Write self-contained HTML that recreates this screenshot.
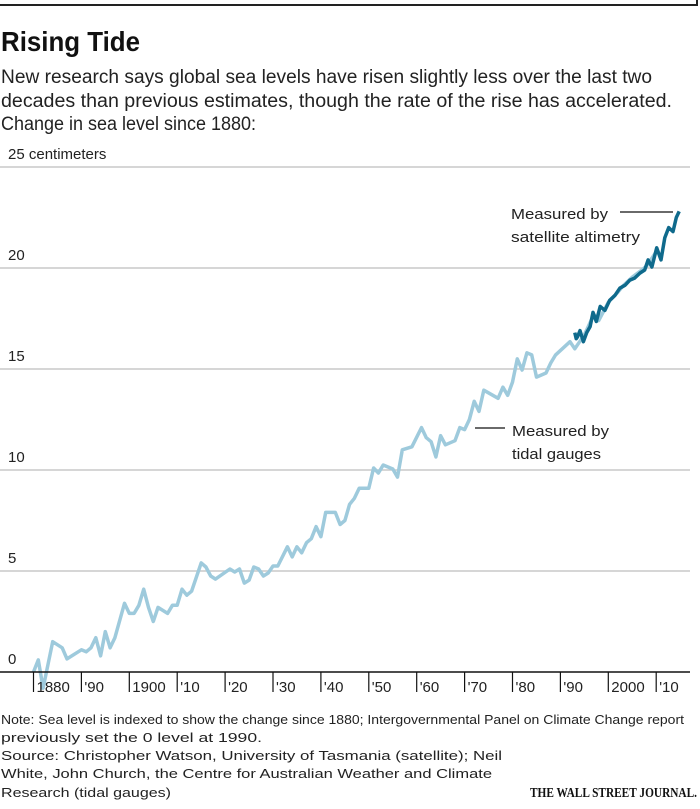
<!DOCTYPE html>
<html><head><meta charset="utf-8"><style>
html,body{margin:0;padding:0;background:#fff;}
svg{display:block;font-family:"Liberation Sans",sans-serif;}
</style></head><body>
<svg id="chart" width="700" height="809" viewBox="0 0 700 809">
<line x1="0" y1="5" x2="697" y2="5" stroke="#222" stroke-width="2"/>
<line x1="697" y1="0" x2="697" y2="6" stroke="#222" stroke-width="2"/>
<text x="1" y="51" font-size="28" font-weight="bold" textLength="139" lengthAdjust="spacingAndGlyphs" fill="#111">Rising Tide</text>
<g font-size="19" fill="#222">
<text x="1" y="83" textLength="651" lengthAdjust="spacingAndGlyphs">New research says global sea levels have risen slightly less over the last two</text>
<text x="1" y="107" textLength="671" lengthAdjust="spacingAndGlyphs">decades than previous estimates, though the rate of the rise has accelerated.</text>
<text x="1" y="130" textLength="255" lengthAdjust="spacingAndGlyphs">Change in sea level since 1880:</text>
</g>
<g id="grid"></g>
<g id="ylabels" font-size="15" fill="#222"></g>
<g id="series"></g>
<line x1="0" y1="672" x2="690" y2="672" stroke="#111" stroke-width="1.5"/>
<g id="xaxis" font-size="15" fill="#222"></g>
<g>
<line x1="620" y1="212" x2="673" y2="212" stroke="#111" stroke-width="1.2"/>
<text x="511" y="219" font-size="15" fill="#222" textLength="97" lengthAdjust="spacingAndGlyphs">Measured by</text>
<text x="511" y="242" font-size="15" fill="#222" textLength="129" lengthAdjust="spacingAndGlyphs">satellite altimetry</text>
</g>
<g>
<line x1="475" y1="428" x2="505" y2="428" stroke="#111" stroke-width="1.2"/>
<text x="512" y="436" font-size="15" fill="#222" textLength="97" lengthAdjust="spacingAndGlyphs">Measured by</text>
<text x="512" y="459" font-size="15" fill="#222" textLength="89" lengthAdjust="spacingAndGlyphs">tidal gauges</text>
</g>
<g font-size="13" fill="#222">
<text x="1" y="724" textLength="683" lengthAdjust="spacingAndGlyphs">Note: Sea level is indexed to show the change since 1880; Intergovernmental Panel on Climate Change report</text>
<text x="1" y="742" textLength="261" lengthAdjust="spacingAndGlyphs">previously set the 0 level at 1990.</text>
<text x="1" y="760" textLength="501" lengthAdjust="spacingAndGlyphs">Source: Christopher Watson, University of Tasmania (satellite); Neil</text>
<text x="1" y="778" textLength="491" lengthAdjust="spacingAndGlyphs">White, John Church, the Centre for Australian Weather and Climate</text>
<text x="1" y="797" textLength="170" lengthAdjust="spacingAndGlyphs">Research (tidal gauges)</text>
</g>
<text x="530" y="797" font-family="Liberation Serif,serif" font-weight="bold" font-size="14" fill="#111" textLength="167" lengthAdjust="spacingAndGlyphs">THE WALL STREET JOURNAL.</text>
</svg>
<script>
const yTicks = [0, 5, 10, 15, 20, 25];
const yTickLabels = ["0", "5", "10", "15", "20", "25 centimeters"];
const xTicks = [1880,1890,1900,1910,1920,1930,1940,1950,1960,1970,1980,1990,2000,2010];
const xTickLabels = ["1880","'90","1900","'10","'20","'30","'40","'50","'60","'70","'80","'90","2000","'10"];
const tidalYears = [1880,1881,1882,1884,1886,1887,1890,1891,1892,1893,1894,1895,1896,1897,1899,1900,1901,1902,1903,1904,1905,1906,1908,1909,1910,1911,1912,1913,1915,1916,1917,1918,1921,1922,1923,1924,1925,1926,1927,1928,1929,1930,1931,1933,1934,1935,1936,1937,1938,1939,1940,1941,1943,1944,1945,1946,1947,1948,1950,1951,1952,1953,1955,1956,1957,1959,1961,1962,1963,1964,1965,1966,1968,1969,1970,1971,1972,1973,1974,1977,1978,1979,1980,1981,1982,1983,1984,1985,1987,1988,1989,1992,1993,1995,1997,1998,2000,2002,2003,2005,2007,2008,2010];
const tidalValues = [0,0.6,-0.8,1.5,1.2,0.65,1.1,1.0,1.2,1.7,0.8,2.0,1.2,1.7,3.4,2.9,2.9,3.3,4.1,3.2,2.5,3.2,2.9,3.3,3.3,4.1,3.8,4.0,5.4,5.2,4.75,4.6,5.1,4.95,5.1,4.4,4.55,5.2,5.1,4.75,4.9,5.25,5.25,6.2,5.7,6.2,5.9,6.4,6.6,7.2,6.7,7.9,7.9,7.3,7.5,8.3,8.6,9.1,9.1,10.1,9.85,10.25,10.05,9.65,11.0,11.15,12.1,11.6,11.4,10.65,11.7,11.25,11.45,12.1,12.0,12.5,13.4,12.9,13.95,13.55,14.1,13.7,14.35,15.5,14.95,15.8,15.7,14.6,14.8,15.3,15.7,16.35,16.0,16.7,17.7,17.4,18.3,18.8,19.1,19.55,19.9,20.1,20.8];
const satYears = [1993.0,1993.3,1993.6,1994.1,1994.8,1995.5,1996.2,1996.8,1997.5,1998.3,1999.3,2000.3,2001.4,2002.4,2003.5,2004.5,2005.5,2006.6,2007.6,2008.3,2009.1,2010.1,2011.0,2011.8,2012.6,2013.5,2014.2,2014.8];
const satValues = [16.8,16.5,16.6,16.9,16.35,16.8,17.1,17.8,17.35,18.1,17.9,18.4,18.65,19.0,19.15,19.4,19.5,19.75,19.9,20.4,20.05,21.0,20.4,21.5,22.0,21.8,22.5,22.8];

const NS = "http://www.w3.org/2000/svg";
function xScale(yr){ return 33.5 + (yr - 1880) * 4.79; }
function yScale(v){ return 672 - v * 20.2; }
function mk(tag, attrs, parent){
  const el = document.createElementNS(NS, tag);
  for (const k in attrs) el.setAttribute(k, attrs[k]);
  parent.appendChild(el);
  return el;
}
const grid = document.getElementById('grid');
const yl = document.getElementById('ylabels');
yTicks.forEach((t, i) => {
  if (t > 0) {
    const g = mk('line', {x1:0, x2:690, y1:yScale(t), y2:yScale(t), stroke:'#c8c8c8', 'stroke-width':1.5}, grid);
    
    
  }
  const tx = mk('text', {x:8, y:yScale(t) - 8}, yl);
  tx.textContent = yTickLabels[i];
  
  
});
const xa = document.getElementById('xaxis');
xTicks.forEach((t, i) => {
  const x = xScale(t);
  const tk = mk('line', {x1:x, x2:x, y1:672, y2:692, stroke:'#111', 'stroke-width':1.2}, xa);
  
  
  const tx = mk('text', {x:x + 3, y:692}, xa);
  tx.textContent = xTickLabels[i];
  
  
});
const series = document.getElementById('series');
function pts(xs, vs){ return xs.map((x, i) => xScale(x).toFixed(1) + ',' + yScale(vs[i]).toFixed(1)).join(' '); }
const tidal = mk('polyline', {points:pts(tidalYears, tidalValues), fill:'none', stroke:'#9ecadc', 'stroke-width':3.5, 'stroke-linejoin':'round'}, series);


const sat = mk('polyline', {points:pts(satYears, satValues), fill:'none', stroke:'#0f6a8c', 'stroke-width':3.5, 'stroke-linejoin':'round'}, series);


</script>
</body></html>
